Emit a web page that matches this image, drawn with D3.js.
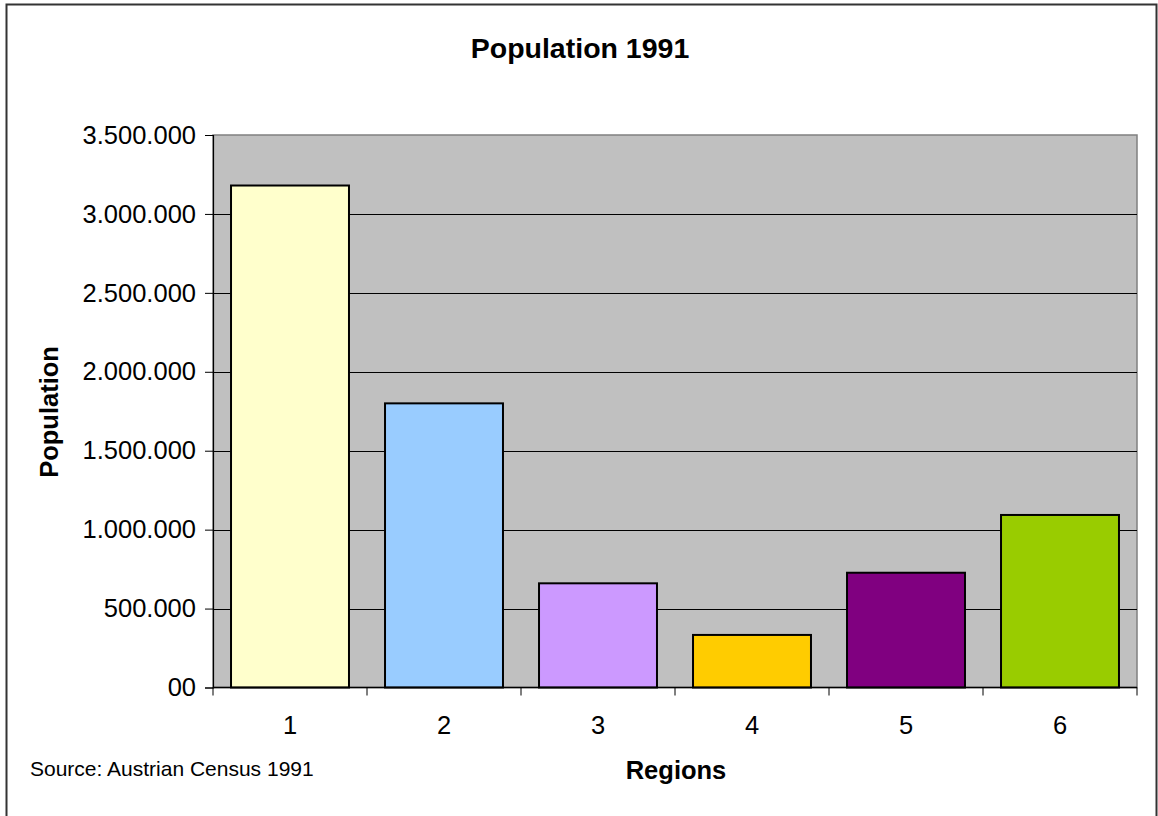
<!DOCTYPE html>
<html>
<head>
<meta charset="utf-8">
<script src="https://cdn.jsdelivr.net/npm/d3@7"></script>
<style>
  html, body { margin: 0; padding: 0; background: #ffffff; }
  svg { display: block; font-family: Arial, "Liberation Sans", sans-serif; }
</style>
</head>
<body>
<svg id="chart" width="1158" height="816"></svg>
<script>
const categories = ["1", "2", "3", "4", "5", "6"];
const values = [3180000, 1800000, 660000, 333000, 727000, 1093000];
const barColors = ["#ffffcc", "#99ccff", "#cc99ff", "#ffcc00", "#800080", "#99cc00"];
const yTickValues = [0, 500000, 1000000, 1500000, 2000000, 2500000, 3000000, 3500000];
const yTickLabels = ["00", "500.000", "1.000.000", "1.500.000", "2.000.000", "2.500.000", "3.000.000", "3.500.000"];
const titleText = "Population 1991";
const xTitle = "Regions";
const yTitle = "Population";
const sourceText = "Source: Austrian Census 1991";

const svg = d3.select("#chart");
const plot = { left: 213, right: 1137, top: 135, bottom: 687.5 };

// outer frame
svg.append("rect")
  .attr("x", 6.5).attr("y", 4.5)
  .attr("width", 1150).attr("height", 830)
  .attr("fill", "#ffffff").attr("stroke", "#333333").attr("stroke-width", 2);

const x = d3.scaleBand().domain(categories).range([plot.left, plot.right])
  .paddingInner(0.234).paddingOuter(0.117);
const xSlot = d3.scaleBand().domain(categories).range([plot.left, plot.right]).padding(0);
const y = d3.scaleLinear().domain([0, 3500000]).range([plot.bottom, plot.top]);

// plot area
svg.append("rect")
  .attr("x", plot.left).attr("y", plot.top)
  .attr("width", plot.right - plot.left).attr("height", plot.bottom - plot.top)
  .attr("fill", "#c0c0c0").attr("stroke", "#808080").attr("stroke-width", 1.5);

// gridlines
svg.append("g").selectAll("line")
  .data(yTickValues.filter(v => v > 0 && v < 3500000))
  .join("line")
  .attr("x1", plot.left).attr("x2", plot.right)
  .attr("y1", d => Math.round(y(d)) + 0.5).attr("y2", d => Math.round(y(d)) + 0.5)
  .attr("stroke", "#000000").attr("stroke-width", 1);

// bars
svg.append("g").selectAll("rect")
  .data(values)
  .join("rect")
  .attr("x", (d, i) => x(categories[i]))
  .attr("y", d => y(d))
  .attr("width", x.bandwidth())
  .attr("height", d => plot.bottom - y(d))
  .attr("fill", (d, i) => barColors[i])
  .attr("stroke", "#000000").attr("stroke-width", 2);

// y axis
const yAxis = d3.axisLeft(y).tickValues(yTickValues)
  .tickFormat((d, i) => yTickLabels[i]).tickSize(8).tickPadding(9);
const yg = svg.append("g").attr("transform", `translate(${plot.left},0)`).call(yAxis);
yg.select(".domain").attr("stroke", "#000").attr("stroke-width", 1.2);
yg.selectAll(".tick line").attr("stroke", "#000");
yg.selectAll(".tick text").attr("font-size", 25.5).attr("fill", "#000")
  .attr("font-family", "Arial, 'Liberation Sans', sans-serif");

// x axis (ticks at category boundaries)
const xAxisG = svg.append("g").attr("transform", `translate(0,${plot.bottom})`);
xAxisG.append("line")
  .attr("x1", plot.left).attr("x2", plot.right)
  .attr("y1", 0).attr("y2", 0)
  .attr("stroke", "#000").attr("stroke-width", 1.5);
const boundaries = categories.map(c => xSlot(c)).concat([xSlot(categories[categories.length - 1]) + xSlot.bandwidth()]);
xAxisG.selectAll("line.tk").data(boundaries).join("line").attr("class", "tk")
  .attr("x1", d => d).attr("x2", d => d).attr("y1", 0).attr("y2", 8)
  .attr("stroke", "#000").attr("stroke-width", 1);
xAxisG.selectAll("text").data(categories).join("text")
  .attr("x", d => xSlot(d) + xSlot.bandwidth() / 2)
  .attr("y", 46)
  .attr("text-anchor", "middle")
  .attr("font-size", 25.5).attr("fill", "#000")
  .text(d => d);

// title
svg.append("text").attr("x", 580).attr("y", 58)
  .attr("text-anchor", "middle").attr("font-size", 28.5).attr("font-weight", "bold")
  .text(titleText);

// axis titles
svg.append("text").attr("x", 676).attr("y", 779)
  .attr("text-anchor", "middle").attr("font-size", 25.5).attr("font-weight", "bold")
  .text(xTitle);
svg.append("text")
  .attr("transform", "translate(58,412) rotate(-90)")
  .attr("text-anchor", "middle").attr("font-size", 25.5).attr("font-weight", "bold")
  .text(yTitle);

// source
svg.append("text").attr("x", 30).attr("y", 776)
  .attr("font-size", 21).attr("fill", "#000")
  .text(sourceText);
</script>
</body>
</html>
